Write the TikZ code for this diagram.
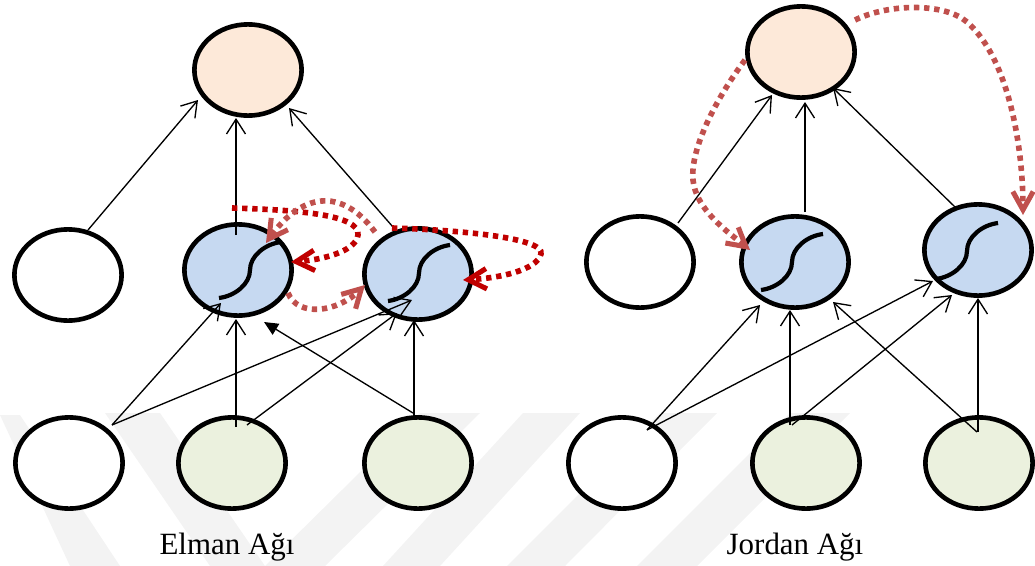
\documentclass[tikz,border=0pt]{standalone}
\usepackage{fontspec}
\setmainfont{Liberation Serif}
\usetikzlibrary{shapes.geometric,arrows.meta,calc}
\definecolor{hidblue}{HTML}{C6D9F1}
\definecolor{outpeach}{HTML}{FDE9D9}
\definecolor{ingreen}{HTML}{EBF1DE}
\definecolor{loopdark}{HTML}{C00000}
\definecolor{loopsoft}{HTML}{C0504D}
\definecolor{wmgray}{HTML}{F3F3F3}
\begin{document}
\begin{tikzpicture}[x=0.025cm,y=-0.025cm,
  unit/.style={ellipse, draw=black, line width=3.3pt, inner sep=0pt,
               minimum width=2.68cm, minimum height=2.28cm},
  plain/.style={unit, fill=white},
  hidden/.style={unit, fill=hidblue},
  output/.style={unit, fill=outpeach},
  input/.style={unit, fill=ingreen},
  con/.style={line width=0.95pt,
              -{Straight Barb[length=10.5pt,width=13.5pt,line width=0.95pt]}},
  confill/.style={line width=0.95pt, -{Triangle[length=10pt,width=9pt]}},
  loop/.style={line width=4pt, line cap=butt, dash pattern=on 3.8pt off 3.4pt,
               -{Straight Barb[length=13pt,width=14.5pt,line width=3.6pt]}},
  sigline/.style={line width=3pt},
  lbl/.style={font=\fontsize{22}{26}\selectfont, anchor=base}]
\useasboundingbox (0,0) rectangle (1035,566);

% faint background stripes
\fill[wmgray] (0,415) -- (20,415) -- (120,566) -- (70,566) -- cycle;
\fill[wmgray] (105,413) -- (160,413) -- (265,566) -- (210,566) -- cycle;
\fill[wmgray] (265,566) -- (325,566) -- (480,413) -- (420,413) -- cycle;
\fill[wmgray] (383,566) -- (440,566) -- (580,413) -- (523,413) -- cycle;
\fill[wmgray] (507,566) -- (565,566) -- (717,413) -- (660,413) -- cycle;
\fill[wmgray] (637,566) -- (697,566) -- (850,413) -- (790,413) -- cycle;

\newcommand\sigmoidat[1]{%
  \draw[sigline,shift={(#1)}] (-31,28) .. controls (-15,26) and (0,14) .. (0,0)
        .. controls (0,-14) and (15,-26) .. (31,-28);}

% ---------- Elman network ----------
\node[output] (eo)  at (248,70)  {};
\node[plain]  (eh0) at (68,275)  {};
\node[hidden] (eh1) at (238,270) {};
\node[hidden] (eh2) at (418,274) {};
\node[plain]  (ei0) at (69,463)  {};
\node[input]  (ei1) at (232,463) {};
\node[input]  (ei2) at (418,463) {};

\sigmoidat{$(eh1)+(12,0)$}
\sigmoidat{$(eh2)+(1,-1)$}

\draw[con] ($(eh0)+(20,-45)$) -- ($(eo)+(-50,30)$);
\draw[con] ($(eh1)+(-2,-35)$) -- ($(eo)+(-12,48)$);
\draw[con] ($(eh2)+(-25,-47)$) -- ($(eo)+(41,38)$);

\draw[con] ($(ei0)+(43,-38)$) -- ($(eh1)+(-17,33)$);
\draw[con] ($(ei0)+(43,-38)$) -- ($(eh2)+(-6,26)$);
\draw[con] ($(ei1)+(4,-36)$) -- ($(eh1)+(-2,49)$);
\draw[con] ($(ei1)+(15,-38)$) -- ($(eh2)+(-21,39)$);
\draw[con] ($(ei2)+(-4,-46)$) -- ($(eh2)+(-4,46)$);
\draw[confill] ($(ei2)+(-5,-50)$) -- ($(eh1)+(26,52)$);

% recurrent context loops
\draw[loop,loopdark] ($(eh1)+(-6,-62)$)
   .. controls ($(eh1)+(62,-60)$) and ($(eh1)+(122,-55)$) .. ($(eh1)+(120,-35)$)
   .. controls ($(eh1)+(118,-18)$) and ($(eh1)+(82,-10)$) .. ($(eh1)+(53,-8)$);
\draw[loop,loopdark] ($(eh2)+(-26,-46)$)
   .. controls ($(eh2)+(42,-44)$) and ($(eh2)+(127,-36)$) .. ($(eh2)+(123,-20)$)
   .. controls ($(eh2)+(119,-4)$) and ($(eh2)+(82,4)$) .. ($(eh2)+(45,6)$);
\draw[loop,loopsoft] ($(eh2)+(-43,-42)$)
   .. controls ($(eh2)+(-78,-89)$) and ($(eh1)+(62,-75)$) .. ($(eh1)+(28,-27)$);
\draw[loop,loopsoft] ($(eh1)+(50,23)$)
   .. controls ($(eh1)+(60,48)$) and ($(eh2)+(-80,38)$) .. ($(eh2)+(-53,11)$);

\node[lbl] (elbl) at (227,554) {Elman Ağı};

% ---------- Jordan network ----------
\node[output] (jo)  at (801,52)  {};
\node[plain]  (jh0) at (640,262) {};
\node[hidden] (jh1) at (795,262) {};
\node[hidden] (jh2) at (978,250) {};
\node[plain]  (ji0) at (622,463) {};
\node[input]  (ji1) at (806,463) {};
\node[input]  (ji2) at (979,463) {};

\sigmoidat{$(jh1)+(-3,0)$}
\sigmoidat{$(jh2)+(-11,1)$}

\draw[con] ($(jh0)+(38,-39)$) -- ($(jo)+(-29,43)$);
\draw[con] ($(jh1)+(10,-50)$) -- ($(jo)+(4,50)$);
\draw[con] ($(jh2)+(-23,-43)$) -- ($(jo)+(32,36)$);

\draw[con] ($(ji0)+(25,-33)$) -- ($(jh1)+(-35,43)$);
\draw[con] ($(ji0)+(25,-33)$) -- ($(jh2)+(-45,31)$);
\draw[con] ($(ji1)+(-16,-38)$) -- ($(jh1)+(-5,48)$);
\draw[con] ($(ji1)+(-14,-38)$) -- ($(jh2)+(-26,45)$);
\draw[con] ($(ji2)+(-2,-31)$) -- ($(jh1)+(38,40)$);
\draw[con] ($(ji2)+(-1,-31)$) -- ($(jh2)+(0,48)$);

% output feedback loops
\draw[loop,loopsoft] ($(jo)+(-56,8)$)
   .. controls ($(jo)+(-86,48)$) and ($(jo)+(-111,98)$) .. ($(jo)+(-108,128)$)
   .. controls ($(jh1)+(-99,-52)$) and ($(jh1)+(-67,-30)$) .. ($(jh1)+(-45,-12)$);
\draw[loop,loopsoft] ($(jo)+(54,-32)$)
   .. controls ($(jo)+(89,-49)$) and ($(jo)+(144,-49)$) .. ($(jo)+(166,-30)$)
   .. controls ($(jo)+(209,8)$) and ($(jh2)+(45,-100)$) .. ($(jh2)+(45,-35)$);

\node[lbl] (jlbl) at (795,554) {Jordan Ağı};
\end{tikzpicture}
\end{document}
